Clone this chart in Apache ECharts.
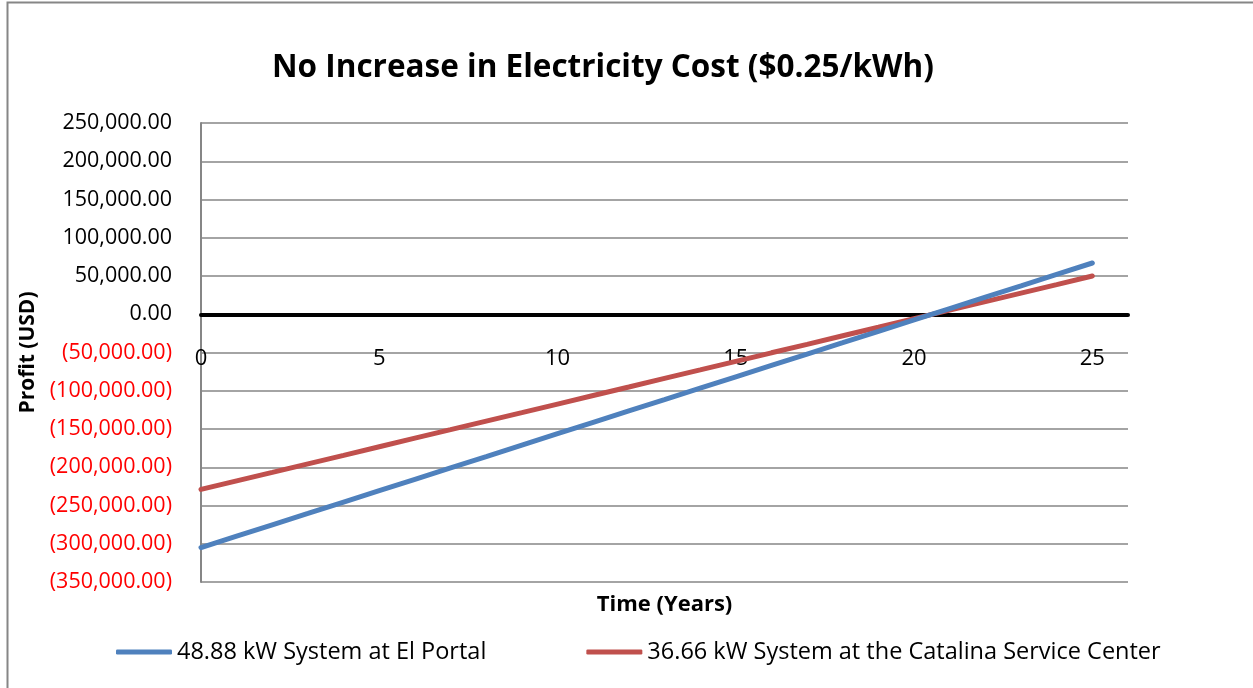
<!DOCTYPE html>
<html>
<head>
<meta charset="utf-8">
<script src="https://cdn.jsdelivr.net/npm/echarts@6/dist/echarts.min.js"></script>
<style>
	html, body { margin: 0; padding: 0; background: #fff; }
	#chart { width: 1253px; height: 688px; }
</style>
</head>
<body>
<div id="chart"></div>
<script>
// years on the x axis
var years = [0, 1, 2, 3, 4, 5, 6, 7, 8, 9, 10, 11, 12, 13, 14, 15, 16, 17, 18, 19, 20, 21, 22, 23, 24, 25];
// profit
var elPortal = [-305000, -290100, -275200, -260400, -245500, -230600, -215700, -200800, -186000, -171100,
	-156200, -141300, -126400, -111600, -96700, -81800, -66900, -52000, -37200, -22300,
	-7400, 7500, 22400, 37200, 52100, 67000];
var catalina = [-229000, -217800, -206700, -195500, -184400, -173200, -162000, -150900, -139700, -128600,
	-117400, -106200, -95100, -83900, -72800, -61600, -50400, -39300, -28100, -17000,
	-5800, 5400, 16500, 27700, 38800, 50000];
var seriesNames = ['48.88 kW System at El Portal', '36.66 kW System at the Catalina Service Center'];

var FONT = '"Open Sans", "Liberation Sans", sans-serif';

var gridTop = 123, gridH = 459, yMin = -350000, yMax = 250000;
// distance from the bottom of the plot up to the zero line
var zeroOffset = gridH * (0 - yMin) / (yMax - yMin);

function pairs(ys) {
	return years.map(function(x, i) { return [x, ys[i]]; });
}

function money(v) {
	var s = Math.abs(v).toLocaleString('en-US', {minimumFractionDigits: 2, maximumFractionDigits: 2});
	return v < 0 ? '(' + s + ')' : s;
}

var ec = echarts.init(document.getElementById('chart'));
var option = {
	animation: false,
	title: {
		text: 'No Increase in Electricity Cost ($0.25/kWh)',
		left: 267,
		top: 47,
		textStyle: { fontFamily: FONT, fontSize: 31.5, fontWeight: 'bold', color: '#000' }
	},
	graphic: [{
		type: 'rect',
		shape: { x: 7.5, y: 2.5, width: 1260, height: 700 },
		style: { fill: 'none', stroke: '#868686', lineWidth: 2 }
	}],
	grid: { left: 201, top: gridTop, width: 927, height: gridH },
	legend: {
		top: 635,
		left: 111,
		itemGap: 100,
		itemWidth: 56,
		itemHeight: 5,
		icon: 'roundRect',
		textStyle: { fontFamily: FONT, fontSize: 23.5, color: '#000' },
		data: seriesNames
	},
	xAxis: [{
		type: 'value',
		min: 0,
		max: 26,
		interval: 5,
		position: 'bottom',
		offset: -zeroOffset,
		axisLine: { onZero: false, lineStyle: { color: '#000', width: 4 } },
		axisTick: { show: false },
		splitLine: { show: false },
		axisLabel: {
			margin: 33,
			showMaxLabel: false,
			fontFamily: FONT, fontSize: 22, color: '#000'
		}
	}, {
		type: 'value',
		min: 0,
		max: 26,
		position: 'bottom',
		name: 'Time (Years)',
		nameLocation: 'middle',
		nameGap: 23,
		nameTextStyle: { fontFamily: FONT, fontSize: 22, fontWeight: 'bold', color: '#000', verticalAlign: 'middle' },
		axisLine: { show: false, onZero: false },
		axisTick: { show: false },
		axisLabel: { show: false },
		splitLine: { show: false }
	}],
	yAxis: {
		type: 'value',
		min: yMin,
		max: yMax,
		interval: 50000,
		name: 'Profit (USD)',
		nameLocation: 'middle',
		nameGap: 157,
		nameTextStyle: { fontFamily: FONT, fontSize: 21, fontWeight: 'bold', color: '#000' },
		axisLine: { show: true, onZero: false, lineStyle: { color: '#868686', width: 2 } },
		axisTick: { show: false },
		splitLine: { lineStyle: { color: '#868686', width: 1.5 } },
		axisLabel: {
			margin: 29,
			fontFamily: FONT, fontSize: 21.5,
			formatter: money,
			color: function(v) { return v < 0 ? '#ff0000' : '#000'; }
		}
	},
	series: [
		{
			name: seriesNames[0],
			type: 'line',
			xAxisIndex: 0,
			showSymbol: false,
			data: pairs(elPortal),
			color: '#4f81bd',
			lineStyle: { width: 5, cap: 'round' },
			z: 3
		},
		{
			name: seriesNames[1],
			type: 'line',
			xAxisIndex: 0,
			showSymbol: false,
			data: pairs(catalina),
			color: '#c0504d',
			lineStyle: { width: 5, cap: 'round' },
			z: 2
		}
	]
};
ec.setOption(option);
</script>
</body>
</html>
